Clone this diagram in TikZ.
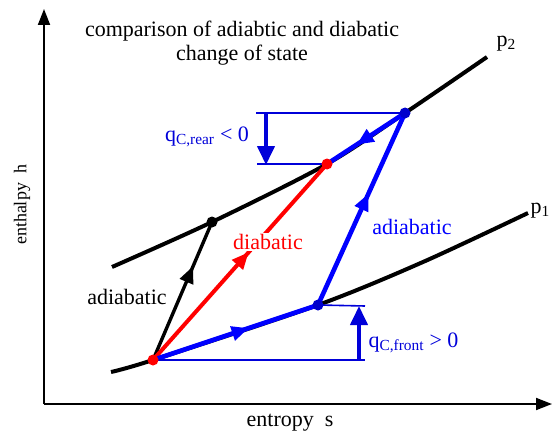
\documentclass[tikz,border=0pt]{standalone}
\usepackage{fontspec}
\setmainfont{Liberation Serif}
\usepackage{tikz}
\usetikzlibrary{arrows.meta, decorations.markings, positioning, calc}

\tikzset{
  isobar/.style={line width=4pt},
  heatbar/.style={blue!85!black, line width=1.6pt},
  heatarrow/.style={blue!85!black, line width=4pt, -{Triangle[length=19pt,width=17pt]}},
  midarrow/.style={postaction={decorate,decoration={markings,
      mark=at position #1 with {\arrow{Triangle[length=17pt,width=14pt]}}}}},
  statedot/.style={circle, inner sep=0pt, minimum size=11pt},
}

\begin{document}
\begin{tikzpicture}[x=1pt, y=-1pt, >=Stealth,
    font=\fontsize{22}{24}\selectfont]
  \useasboundingbox (0,0) rectangle (552,436);
  % axes
  \coordinate (origin) at (44,404);
  \coordinate (ytop) at (44,9);
  \coordinate (xend) at (552,404);
  \draw[line width=1.8pt, -{Triangle[length=16pt,width=12pt]}] (origin) -- (ytop);
  \draw[line width=1.8pt, -{Triangle[length=16pt,width=12pt]}] (origin) -- (xend);
  \node[rotate=90, font=\fontsize{18}{20}\selectfont] (ylab) at (22,205) {enthalpy\ \ h};
  \node (xlab) at (290,423) {entropy\ \ s};
  % title
  \node[align=center, font=\fontsize{22}{24}\selectfont] (title) at (242,43)
    {comparison of adiabtic and diabatic\\change of state};
  % states
  \coordinate (A) at (153,360);
  \coordinate (B) at (212,222);
  \coordinate (C) at (327,164);
  \coordinate (D) at (318,305);
  \coordinate (E) at (405,113);
  % isobars
  \draw[isobar] plot[smooth, tension=0.5] coordinates
    {(112,267) (B) (C) (E) (487,57)};
  \draw[isobar] plot[smooth, tension=0.5] coordinates
    {(111,372) (A) (D) (423,262) (528,213)};
  \node[anchor=west] (ptwo) at (493,44) {p\textsubscript{2}};
  \node[anchor=west] (pone) at (527,211) {p\textsubscript{1}};
  % adiabatic, black
  \draw[line width=3.4pt, midarrow=0.68] (A) -- (B);
  \node (adlab) at (127,297) {adiabatic};
  % diabatic, red
  \draw[red, line width=4pt, midarrow=0.55] (A) -- (C);
  \node[red, fill=white, inner sep=1pt] (dialab) at (268,242) {diabatic};
  % two-step path, blue
  \draw[blue, line width=4.6pt, midarrow=0.58] (A) -- (D);
  \draw[blue, line width=4.6pt, midarrow=0.58] (D) -- (E);
  \draw[blue, line width=4.6pt, midarrow=0.62] (E) -- (C);
  \node[blue] (adlabb) at (412,227) {adiabatic};
  % heat rear
  \coordinate (Etick) at (256,113);
  \coordinate (Ctick) at (257,164);
  \draw[heatbar] (E) -- (Etick);
  \draw[heatbar] (C) -- (Ctick);
  \coordinate (qrt) at (266,113);
  \coordinate (qrb) at (266,165);
  \draw[heatarrow] (qrt) -- (qrb);
  \node[blue!85!black] (qrear) at (207,137) {q\textsubscript{C,rear} < 0};
  % heat front
  \coordinate (Atick) at (365,360);
  \coordinate (Dtick) at (365,306);
  \draw[heatbar] (A) -- (Atick);
  \draw[heatbar] (D) -- (Dtick);
  \coordinate (qfb) at (359,360);
  \coordinate (qft) at (359,306);
  \draw[heatarrow] (qfb) -- (qft);
  \node[blue!85!black, anchor=west] (qfront) at (365,343) {q\textsubscript{C,front} > 0};
  % state points
  \node[statedot, fill=red] (Adot) at (A) {};
  \node[statedot, fill=black] (Bdot) at (B) {};
  \node[statedot, fill=red] (Cdot) at (C) {};
  \node[statedot, fill=blue!80!black] (Ddot) at (D) {};
  \node[statedot, fill=blue!80!black] (Edot) at (E) {};
\end{tikzpicture}
\end{document}
